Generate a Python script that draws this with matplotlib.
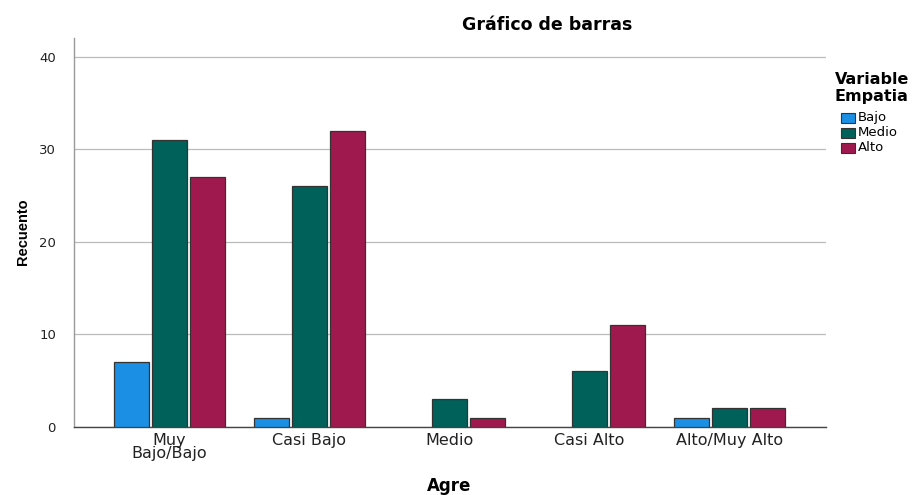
import matplotlib
matplotlib.use("Agg")
import matplotlib.pyplot as plt
import numpy as np
from matplotlib.patches import Rectangle

plt.rcParams['font.family'] = ['DejaVu Sans']

categories = ["Muy\nBajo/Bajo", "Casi Bajo", "Medio", "Casi Alto", "Alto/Muy Alto"]
series_names = ["Bajo", "Medio", "Alto"]
bajo = [7, 1, 0, 0, 1]
medio = [31, 26, 3, 6, 2]
alto = [27, 32, 1, 11, 2]
colors = ["#1a8fe3", "#00605a", "#a0194e"]
yticks = [0, 10, 20, 30, 40]

fig = plt.figure(figsize=(9.17, 4.95), dpi=100)
ax = fig.add_axes([74/917, 1-427/495, (826-74)/917, (427-38)/495])

x = np.arange(len(categories))
w = 0.25
offs = [-0.272, 0.0, 0.272]
for vals, off, c, name in zip([bajo, medio, alto], offs, colors, series_names):
    xs = [xi + off for xi, v in zip(x, vals) if v > 0]
    vs = [v for v in vals if v > 0]
    ax.bar(xs, vs, width=w, color=c, edgecolor="#333333", linewidth=0.9, label=name, zorder=3)

ax.set_xlim(-0.68, 4.69)
ax.set_ylim(0, 42.05)
ax.set_yticks(yticks)
ax.set_yticklabels([str(t) for t in yticks], fontsize=9.5, color="#222222")
ax.set_xticks(x)
ax.set_xticklabels(categories, fontsize=11.5, color="#222222", linespacing=0.9)
ax.tick_params(axis='x', length=0, pad=4)
ax.tick_params(axis='y', length=0, pad=13)
ax.yaxis.grid(True, color="#bbbbbb", linewidth=0.9, zorder=0)
ax.set_axisbelow(True)
for s in ["top", "right"]:
    ax.spines[s].set_visible(False)
ax.spines["left"].set_color("#999999")
ax.spines["left"].set_linewidth(1.0)
ax.spines["bottom"].set_color("#444444")
ax.spines["bottom"].set_linewidth(1.0)

fig.text(23/917, 1-232/495, "Recuento", rotation=90, ha="center", va="center",
         fontsize=10.5, fontweight="bold", family=["Liberation Sans"])
fig.text(449/917, 1-486/495, "Agre", ha="center", va="center", fontsize=12, fontweight="bold")
fig.text(547/917, 1-25/495, "Gráfico de barras", ha="center", va="center",
         fontsize=12.5, fontweight="bold")

fig.text(835/917, 1-79/495, "Variable", ha="left", va="center", fontsize=11.5, fontweight="bold")
fig.text(835/917, 1-96/495, "Empatia", ha="left", va="center", fontsize=11.5, fontweight="bold")
for i, (name, c) in enumerate(zip(series_names, colors)):
    yc = 118 + i * 15
    fig.patches.append(Rectangle((841/917, 1-(yc+5)/495), 14/917, 10/495,
                                 transform=fig.transFigure, facecolor=c,
                                 edgecolor="#333333", linewidth=0.8))
    fig.text(858/917, 1-yc/495, name, ha="left", va="center", fontsize=9.5)

fig.savefig("out.png", dpi=100)
